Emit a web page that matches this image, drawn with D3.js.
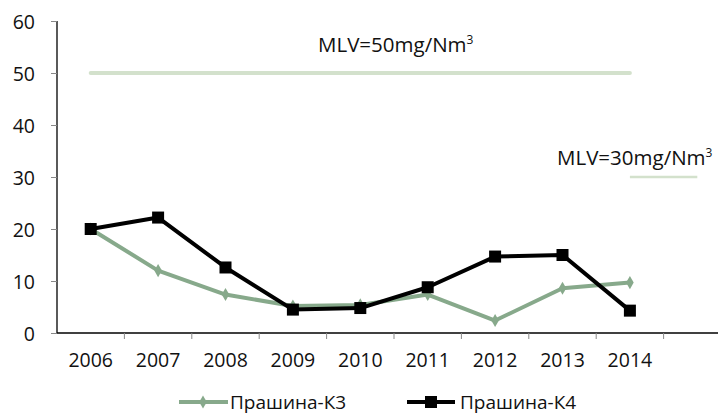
<!DOCTYPE html>
<html>
<head>
<meta charset="utf-8">
<script src="https://cdn.jsdelivr.net/npm/d3@7"></script>
<style>
  html, body { margin: 0; padding: 0; background: #fff; }
  svg text { font-family: "Open Sans", "Noto Sans", sans-serif; fill: #111; }
</style>
</head>
<body>
<svg id="chart" width="718" height="415"></svg>
<script>
// Categories (the trailing empty slot leaves room after 2014)
const years = ["2006", "2007", "2008", "2009", "2010", "2011", "2012", "2013", "2014", ""];
const yTicks = [0, 10, 20, 30, 40, 50, 60];

// Measured concentrations, mg/Nm3
const k3Values = [20, 12, 7.4, 5.2, 5.4, 7.4, 2.4, 8.6, 9.7];
const k4Values = [20, 22.2, 12.6, 4.5, 4.8, 8.8, 14.7, 15.0, 4.3];

// Limit values
const mlv50Years = ["2006", "2014"];
const mlv50Values = [50, 50];
const mlv30Years = ["2014", ""];
const mlv30Values = [30, 30];

const seriesNames = ["Прашина-К3", "Прашина-К4"];
const green = "#87a98b";
const limitGreen = "#d3e1cc";

const svg = d3.select("#chart");
const plotLeft = 57, plotTop = 21, plotBottom = 333;
const bandW = 67.4;

const x = d3.scaleBand().domain(years).range([plotLeft, plotLeft + bandW * years.length]).padding(0);
const y = d3.scaleLinear().domain([0, 60]).range([plotBottom, plotTop]);
const cx = d => x(d) + x.bandwidth() / 2;

// Y axis
const yAxis = svg.append("g").attr("transform", `translate(${plotLeft},0)`)
  .call(d3.axisLeft(y).tickValues(yTicks).tickSize(6).tickPadding(16).tickFormat(d3.format("d")));
yAxis.select(".domain").attr("stroke", "#000").attr("stroke-width", 1.3).attr("d", `M0,${plotTop}V${plotBottom}`);
yAxis.selectAll(".tick line").attr("stroke", "#888");
yAxis.selectAll(".tick text").style("font-size", "19.5px").attr("fill", "#111").attr("dy", "0.36em");

// X axis: ticks sit on band boundaries, labels centred in bands
const xg = svg.append("g").attr("transform", `translate(0,${plotBottom})`);
xg.append("line").attr("x1", plotLeft).attr("x2", 718).attr("stroke", "#000").attr("stroke-width", 1.3);
const bounds = years.map(d => x(d)).concat([x(years[years.length - 1]) + x.bandwidth()]).filter(v => v <= 718);
xg.selectAll("line.tk").data(bounds.slice(1)).enter().append("line").attr("class", "tk")
  .attr("x1", d => d).attr("x2", d => d).attr("y1", 0).attr("y2", 6).attr("stroke", "#888");
xg.selectAll("text").data(years.filter(d => d)).enter().append("text")
  .attr("x", d => cx(d)).attr("y", 34).attr("text-anchor", "middle").style("font-size", "19.5px").text(d => d);

// Limit lines
const limLine = d3.line().x(d => cx(d[0])).y(d => y(d[1]));
svg.append("path").datum(d3.zip(mlv50Years, mlv50Values)).attr("d", limLine)
  .attr("fill", "none").attr("stroke", limitGreen).attr("stroke-width", 4).attr("stroke-linecap", "round");
svg.append("path").datum(d3.zip(mlv30Years, mlv30Values)).attr("d", limLine)
  .attr("fill", "none").attr("stroke", limitGreen).attr("stroke-width", 2.5);

function mlvLabel(xPos, yPos, value) {
  const t = svg.append("text").attr("x", xPos).attr("y", yPos).style("font-size", "20.5px");
  t.append("tspan").text(`MLV=${value}mg/Nm`);
  t.append("tspan").attr("dy", -8).style("font-size", "12px").text("3");
}
mlvLabel(318, 52, 50);
mlvLabel(557, 165, 30);

// Series lines
const line = d3.line().x((d, i) => cx(years[i])).y(d => y(d));
svg.append("path").datum(k3Values).attr("d", line)
  .attr("fill", "none").attr("stroke", green).attr("stroke-width", 4).attr("stroke-linejoin", "round");
svg.append("path").datum(k4Values).attr("d", line)
  .attr("fill", "none").attr("stroke", "#000").attr("stroke-width", 4).attr("stroke-linejoin", "round");

const diamond = d3.symbol().type(d3.symbolDiamond).size(50);
svg.selectAll("path.k3").data(k3Values).enter().append("path").attr("class", "k3")
  .attr("d", diamond).attr("fill", green)
  .attr("transform", (d, i) => `translate(${cx(years[i])},${y(d)})`);
svg.selectAll("rect.k4").data(k4Values).enter().append("rect").attr("class", "k4")
  .attr("x", (d, i) => cx(years[i]) - 6).attr("y", d => y(d) - 6)
  .attr("width", 12).attr("height", 12).attr("fill", "#000");

// Legend
const lg = svg.append("g").attr("transform", "translate(0,402)");
lg.append("line").attr("x1", 179).attr("x2", 228).attr("stroke", green).attr("stroke-width", 4);
lg.append("path").attr("d", diamond).attr("fill", green).attr("transform", "translate(203,0)");
lg.append("text").attr("x", 230).attr("y", 7).style("font-size", "19px").text(seriesNames[0]);
lg.append("line").attr("x1", 407).attr("x2", 455).attr("stroke", "#000").attr("stroke-width", 4);
lg.append("rect").attr("x", 425).attr("y", -6).attr("width", 12).attr("height", 12).attr("fill", "#000");
lg.append("text").attr("x", 460).attr("y", 7).style("font-size", "19px").text(seriesNames[1]);
</script>
</body>
</html>
